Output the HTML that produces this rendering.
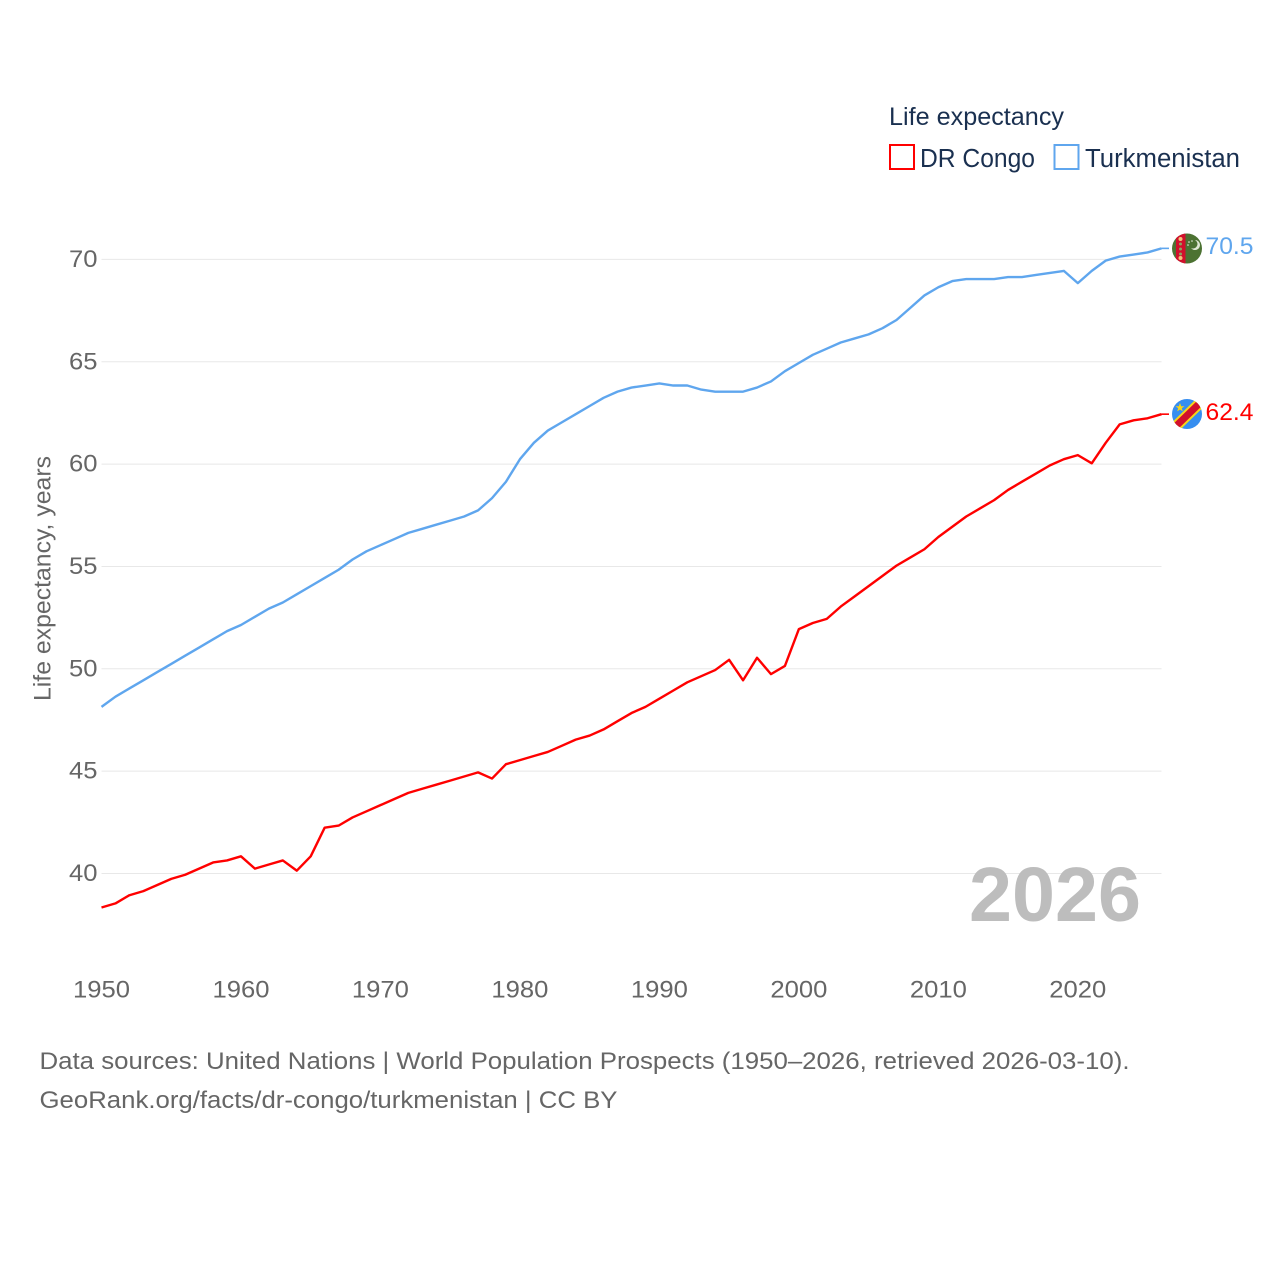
<!DOCTYPE html>
<html lang="en">
<head>
<meta charset="utf-8">
<title>Life expectancy: DR Congo vs Turkmenistan</title>
<style>
html,body{margin:0;padding:0;background:#fff;width:1280px;height:1280px;overflow:hidden}
svg{display:block}
text{font-family:"Liberation Sans","DejaVu Sans",sans-serif}
</style>
</head>
<body>
<svg id="chart" width="1280" height="1280" viewBox="0 0 1280 1280" xmlns="http://www.w3.org/2000/svg">
  <defs>
    <clipPath id="flag-clip-tm"><circle cx="1187" cy="248.5" r="15"/></clipPath>
    <clipPath id="flag-clip-cd"><circle cx="1187" cy="414" r="15"/></clipPath>
  </defs>
  <g id="grid"></g>
  <g id="y-ticks"></g>
  <g id="x-ticks"></g>
  <text transform="translate(50.5,701) rotate(-90)" font-size="24" fill="#666" textLength="245" lengthAdjust="spacingAndGlyphs">Life expectancy, years</text>
  <g id="series"></g>

  <g clip-path="url(#flag-clip-tm)">
    <rect x="1172" y="233" width="30" height="31" fill="#4c7232"/>
    <rect x="1176" y="233" width="9.5" height="31" fill="#d2102c"/>
    <circle cx="1180.5" cy="239" r="2" fill="#f3c27a"/>
    <circle cx="1180.5" cy="244" r="1.5" fill="#8fa35f"/>
    <circle cx="1180.5" cy="249" r="1.5" fill="#8fa35f"/>
    <circle cx="1180.5" cy="254" r="1.5" fill="#8fa35f"/>
    <circle cx="1180.5" cy="258" r="2" fill="#f3c27a"/>
    <path d="M1195 240a5 5 0 1 1-4 8a4 4 0 0 0 4-8z" fill="#dfe8d4"/>
    <circle cx="1189" cy="242" r="0.8" fill="#e8eee0"/>
    <circle cx="1192" cy="241" r="0.8" fill="#e8eee0"/>
    <circle cx="1188" cy="245" r="0.8" fill="#e8eee0"/>
  </g>
  <g clip-path="url(#flag-clip-cd)">
    <rect x="1172" y="399" width="30" height="30" fill="#368ef0"/>
    <path d="M1171 431L1203 400" stroke="#f7d518" stroke-width="11" fill="none"/>
    <path d="M1171 431L1203 400" stroke="#d2102c" stroke-width="7" fill="none"/>
    <polygon points="1180,403 1181.2,406.2 1184.5,406.2 1181.8,408.2 1182.8,411.4 1180,409.5 1177.2,411.4 1178.2,408.2 1175.5,406.2 1178.8,406.2" fill="#f7d518"/>
  </g>

  <text x="1205.5" y="254" font-size="24.5" fill="#5fa6ee" textLength="48" lengthAdjust="spacingAndGlyphs" id="val-tm"></text>
  <text x="1205.5" y="420" font-size="24.5" fill="#ff0000" textLength="48" lengthAdjust="spacingAndGlyphs" id="val-cd"></text>

  <text x="969" y="921" font-size="77" font-weight="700" fill="#bdbdbd" textLength="172" lengthAdjust="spacingAndGlyphs">2026</text>

  <g>
    <text x="889" y="125" font-size="25" fill="#1a3050" textLength="175" lengthAdjust="spacingAndGlyphs">Life expectancy</text>
    <g>
      <rect x="890" y="145" width="24" height="24" fill="none" stroke="#ff0000" stroke-width="2"/>
      <text x="920" y="167" font-size="25.5" fill="#1a3050" textLength="115" lengthAdjust="spacingAndGlyphs">DR Congo</text>
    </g>
    <g>
      <rect x="1054.5" y="145" width="24" height="24" fill="none" stroke="#5fa6ee" stroke-width="2"/>
      <text x="1085" y="167" font-size="25.5" fill="#1a3050" textLength="155" lengthAdjust="spacingAndGlyphs">Turkmenistan</text>
    </g>
  </g>

  <text x="39.5" y="1069" font-size="24.5" fill="#666" textLength="1090" lengthAdjust="spacingAndGlyphs">Data sources: United Nations | World Population Prospects (1950–2026, retrieved 2026-03-10).</text>
  <text x="39.5" y="1108" font-size="24.5" fill="#666" textLength="578" lengthAdjust="spacingAndGlyphs">GeoRank.org/facts/dr-congo/turkmenistan | CC BY</text>
</svg>
<script>
const startYear = 1950;
const endYear = 2026;
const yTickValues = [40, 45, 50, 55, 60, 65, 70];
const xTickValues = [1950, 1960, 1970, 1980, 1990, 2000, 2010, 2020];
const congoValues = [
  38.3,38.5,38.9,39.1,39.4,39.7,39.9,40.2,40.5,40.6,
  40.8,40.2,40.4,40.6,40.1,40.8,42.2,42.3,42.7,43.0,
  43.3,43.6,43.9,44.1,44.3,44.5,44.7,44.9,44.6,45.3,
  45.5,45.7,45.9,46.2,46.5,46.7,47.0,47.4,47.8,48.1,
  48.5,48.9,49.3,49.6,49.9,50.4,49.4,50.5,49.7,50.1,
  51.9,52.2,52.4,53.0,53.5,54.0,54.5,55.0,55.4,55.8,
  56.4,56.9,57.4,57.8,58.2,58.7,59.1,59.5,59.9,60.2,
  60.4,60.0,61.0,61.9,62.1,62.2,62.4
];
const turkmenistanValues = [
  48.1,48.6,49.0,49.4,49.8,50.2,50.6,51.0,51.4,51.8,
  52.1,52.5,52.9,53.2,53.6,54.0,54.4,54.8,55.3,55.7,
  56.0,56.3,56.6,56.8,57.0,57.2,57.4,57.7,58.3,59.1,
  60.2,61.0,61.6,62.0,62.4,62.8,63.2,63.5,63.7,63.8,
  63.9,63.8,63.8,63.6,63.5,63.5,63.5,63.7,64.0,64.5,
  64.9,65.3,65.6,65.9,66.1,66.3,66.6,67.0,67.6,68.2,
  68.6,68.9,69.0,69.0,69.0,69.1,69.1,69.2,69.3,69.4,
  68.8,69.4,69.9,70.1,70.2,70.3,70.5
];

const NS = 'http://www.w3.org/2000/svg';
const plotLeft = 101.5, plotRight = 1161.5;
function xScale(year) { return plotLeft + (year - startYear) * (plotRight - plotLeft) / (endYear - startYear); }
function yScale(v) { return 873.5 - (v - 40) * 20.47; }
function seriesY(v) { return yScale(v) - 0.8; }

const gridGroup = document.getElementById('grid');
const yTickGroup = document.getElementById('y-ticks');
const xTickGroup = document.getElementById('x-ticks');
const seriesGroup = document.getElementById('series');

yTickValues.forEach(function (v) {
  const line = document.createElementNS(NS, 'line');
  
  
  line.setAttribute('x1', plotLeft);
  line.setAttribute('x2', plotRight);
  line.setAttribute('y1', yScale(v));
  line.setAttribute('y2', yScale(v));
  line.setAttribute('stroke', '#e8e8e8');
  line.setAttribute('stroke-width', '1');
  gridGroup.appendChild(line);

  const label = document.createElementNS(NS, 'text');
  
  
  label.setAttribute('x', 69);
  label.setAttribute('y', yScale(v) + 7.5);
  label.setAttribute('font-size', '24.5');
  label.setAttribute('fill', '#666');
  label.setAttribute('textLength', '28.5');
  label.setAttribute('lengthAdjust', 'spacingAndGlyphs');
  label.textContent = String(v);
  yTickGroup.appendChild(label);
});

xTickValues.forEach(function (year) {
  const label = document.createElementNS(NS, 'text');
  
  
  label.setAttribute('x', xScale(year) - 28.5);
  label.setAttribute('y', 997.5);
  label.setAttribute('font-size', '24.5');
  label.setAttribute('fill', '#666');
  label.setAttribute('textLength', '57');
  label.setAttribute('lengthAdjust', 'spacingAndGlyphs');
  label.textContent = String(year);
  xTickGroup.appendChild(label);
});

function drawSeries(values, color, name) {
  const pts = values.map(function (v, i) {
    return xScale(startYear + i).toFixed(2) + ',' + seriesY(v).toFixed(2);
  }).join(' ');
  const line = document.createElementNS(NS, 'polyline');
  
  
  line.setAttribute('points', pts);
  line.setAttribute('fill', 'none');
  line.setAttribute('stroke', color);
  line.setAttribute('stroke-width', '2.4');
  line.setAttribute('stroke-linejoin', 'round');
  seriesGroup.appendChild(line);

  const lastY = seriesY(values[values.length - 1]);
  const conn = document.createElementNS(NS, 'line');
  
  
  conn.setAttribute('x1', plotRight);
  conn.setAttribute('x2', 1169);
  conn.setAttribute('y1', lastY);
  conn.setAttribute('y2', lastY);
  conn.setAttribute('stroke', color);
  conn.setAttribute('stroke-width', '1.6');
  seriesGroup.appendChild(conn);
}
drawSeries(congoValues, '#ff0000', 'dr-congo-line');
drawSeries(turkmenistanValues, '#5fa6ee', 'turkmenistan-line');

document.getElementById('val-tm').textContent = turkmenistanValues[turkmenistanValues.length - 1].toFixed(1);
document.getElementById('val-cd').textContent = congoValues[congoValues.length - 1].toFixed(1);
</script>
</body>
</html>
